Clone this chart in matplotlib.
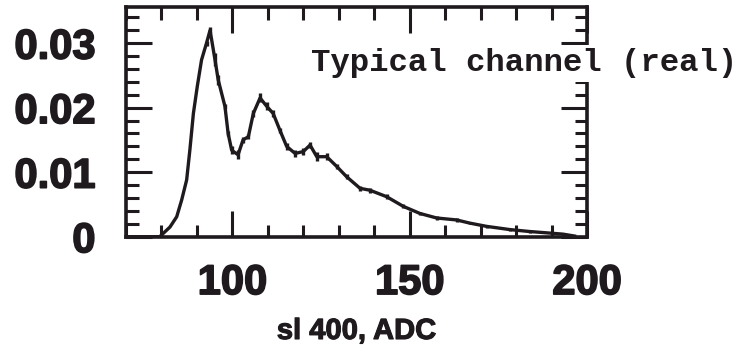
import matplotlib
matplotlib.use("Agg")
import matplotlib.pyplot as plt
import matplotlib.patheffects as pe
from matplotlib.ticker import MultipleLocator, FixedLocator

# Data
adc = [70, 79.5, 82.4, 84.3, 85.7, 87.1, 88.0, 89.0, 90.1, 91.3, 92.7, 93.7,
       95.1, 96.0, 97.9, 98.8, 99.8, 101.6, 103.0, 104.5, 105.9, 107.8, 109.7,
       111.5, 113.4, 115.3, 117.7, 120.0, 121.9, 123.8, 126.6, 129.4, 132.2,
       136.0, 138.8, 143.5, 148.2, 152.9, 157.6, 163.2, 167.0, 171.7, 178.3,
       183.9, 188.6, 193.2, 196.5]
density = [0, 0, 0.0015, 0.0031, 0.0057, 0.0088, 0.0134, 0.0191, 0.0233, 0.0274,
           0.0300, 0.0320, 0.0274, 0.0243, 0.0202, 0.0160, 0.0134, 0.0127, 0.0150,
           0.0155, 0.0191, 0.0215, 0.0202, 0.0191, 0.0165, 0.0140, 0.0129, 0.0132,
           0.0142, 0.0124, 0.0124, 0.0109, 0.0093, 0.0075, 0.0072, 0.0062, 0.0047,
           0.0036, 0.0029, 0.0026, 0.0021, 0.0016, 0.0011, 0.0008, 0.0006, 0.0004,
           0.0001]
errors = [0, 0, 0, 0, 0, 0, 0, 0, 0, 0,
          0.0004, 0.0005, 0.0010, 0.0008, 0.0004, 0.0004, 0.0006, 0.0007, 0.0005,
          0.0004, 0.0006, 0.0007, 0.0006, 0.0005, 0.0004, 0.0006, 0.0006, 0.0005,
          0.0005, 0.0007, 0.0005, 0.0004, 0.0004, 0.0004, 0.0004, 0.0004, 0.0003,
          0.0003, 0.0003, 0.0003, 0.0002, 0.0002, 0.0002, 0.0002, 0.0001, 0.0001,
          0]

x_ticks = [100, 150, 200]
x_ticklabels = ["100", "150", "200"]
y_ticks = [0, 0.01, 0.02, 0.03]
y_ticklabels = ["0", "0.01", "0.02", "0.03"]
x_label = "sl 400, ADC"
annotation = "Typical channel (real)"

ink = "#1e1a1e"

fig = plt.figure(figsize=(7.55, 3.61), dpi=100)
ax = fig.add_axes([0.1669, 0.3443, 0.6106, 0.6363])

ax.errorbar(adc, density, yerr=errors, color=ink, lw=2.4, elinewidth=2.4,
            capsize=0, fmt="-", solid_joinstyle="round")

ax.set_xlim(70, 200)
ax.set_ylim(0, 0.0356)

ax.xaxis.set_major_locator(FixedLocator(x_ticks))
ax.set_xticklabels(x_ticklabels)
ax.xaxis.set_minor_locator(MultipleLocator(10))
ax.yaxis.set_major_locator(FixedLocator(y_ticks))
ax.set_yticklabels(y_ticklabels)
ax.yaxis.set_minor_locator(MultipleLocator(0.002))

for s in ax.spines.values():
    s.set_linewidth(2.6)
    s.set_color(ink)

ax.tick_params(which="both", direction="in", top=True, right=True, color=ink)
ax.tick_params(which="major", length=19, width=2.2)
ax.tick_params(which="minor", length=9, width=2.2)
ax.tick_params(axis="x", which="major", pad=19)
ax.tick_params(axis="y", which="major", pad=22)

stroke = [pe.withStroke(linewidth=1.2, foreground=ink)]
for lab in ax.get_xticklabels() + ax.get_yticklabels():
    lab.set_fontfamily("Liberation Sans")
    lab.set_fontweight("bold")
    lab.set_fontsize(30)
    lab.set_color(ink)
    lab.set_path_effects(stroke)

ax.set_xlabel(x_label, family="Liberation Sans", weight="bold", size=21,
              color=ink, labelpad=10,
              path_effects=[pe.withStroke(linewidth=0.8, foreground=ink)])

ax.text(122.2, 0.0269, annotation, family="Liberation Mono", weight="bold",
        size=23.3, color=ink, ha="left", va="center", zorder=5, clip_on=False,
        bbox=dict(facecolor="white", edgecolor="none", pad=2.5))

fig.savefig("out.png", dpi=100, facecolor="white")
